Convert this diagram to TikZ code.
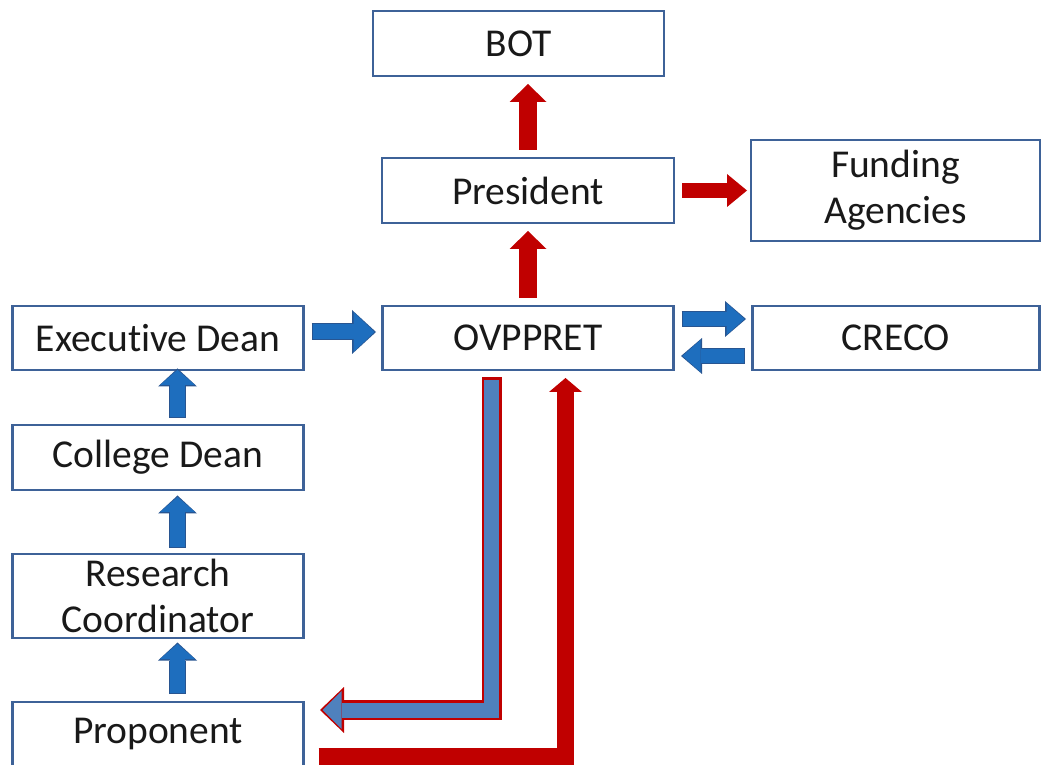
\documentclass[tikz,border=0pt]{standalone}
\usepackage{fontspec}
\setmainfont{Carlito}[Ligatures=NoCommon]
\usetikzlibrary{arrows.meta,positioning}

\definecolor{boxline}{RGB}{62,98,152}
\definecolor{arrowred}{RGB}{192,0,0}
\definecolor{arrowblue}{RGB}{30,110,190}
\definecolor{arrowedge}{RGB}{40,85,145}
\definecolor{steelblue}{RGB}{79,129,189}

\tikzset{
  box/.style={
    % The shape:
    rectangle,
    % The size:
    minimum width=291pt, minimum height=65pt, inner sep=0pt, outer sep=0pt,
    % The border:
    draw=boxline, line width=2.6pt, fill=white,
    % Font
    font=\fontsize{39.5}{46}\selectfont, align=center, text=black!90},
  redup/.style={draw=arrowred, line width=18pt,
    -{Triangle[width=37pt,length=18pt,line width=0pt]}},
  redright/.style={draw=arrowred, line width=15pt,
    -{Triangle[width=33pt,length=20pt,line width=0pt]}},
  bentred/.style={draw=arrowred, line width=17pt, line join=miter,
    -{Triangle[width=33pt,length=14pt,line width=0pt]}},
  bluewide/.style={draw=arrowblue, line width=15pt,
    -{Triangle[width=40pt,length=21pt,line width=0pt]},
    preaction={draw=arrowedge, line width=17pt, shorten >=-1.5pt, shorten <=-1pt,
      -{Triangle[width=44pt,length=24pt,line width=0pt]}}},
  bluenarrow/.style={draw=arrowblue, line width=14pt,
    -{Triangle[width=32pt,length=18pt,line width=0pt]},
    preaction={draw=arrowedge, line width=16pt, shorten >=-1.5pt, shorten <=-1pt,
      -{Triangle[width=36pt,length=21pt,line width=0pt]}}},
  blueup/.style={draw=arrowblue, line width=15pt,
    -{Triangle[width=35pt,length=15pt,line width=0pt]},
    preaction={draw=arrowedge, line width=17pt, shorten >=-1.5pt, shorten <=-1pt,
      -{Triangle[width=39pt,length=18pt,line width=0pt]}}},
  bentblue/.style={draw=steelblue, line width=15pt, line join=miter,
    -{Triangle[width=38pt,length=19pt,line width=0pt]},
    preaction={draw=arrowred, line width=20pt, line join=miter, shorten >=-2.5pt, shorten <=-2.5pt,
      -{Triangle[width=46pt,length=24pt,line width=0pt]}}}
}

\begin{document}
\begin{tikzpicture}
\useasboundingbox (0,0) rectangle (1042pt,764pt);
\node [box, minimum height=64pt] (ovp) at (528pt,426pt) {OVPPRET};
\node [box, above=83pt of ovp, minimum width=292pt] (pres) {President};
\node [box, above=82pt of pres, xshift=-9.5pt] (bot) {BOT};
\node [box, right=77pt of pres, minimum width=289pt, minimum height=101pt] (fund) {Funding\\Agencies};
\node [box, right=79pt of ovp, minimum width=287pt, minimum height=64pt] (creco) {CRECO};
\node [box, left=79pt of ovp, minimum height=64pt] (exec) {Executive Dean};
\node [box, below=55pt of exec] (cdean) {College Dean};
\node [box, below=64pt of cdean, minimum height=84pt] (rc) {Research\\Coordinator};
\node [box, below=64pt of rc, minimum height=64pt] (prop) {Proponent};
% Draw edges
\path [redup] ([yshift=8pt]pres.north) -- ([yshift=-8pt]pres.north |- bot.south);
\path [redup] ([yshift=8pt]ovp.north) -- ([yshift=-8pt]pres.south);
\path [redright] ([xshift=8pt]pres.east) -- ([xshift=-4pt]fund.west |- pres.east);
\path [bluewide] ([xshift=9pt,yshift=6pt]exec.east) -- ([xshift=-8pt,yshift=6pt]ovp.west);
\path [bluenarrow] ([xshift=9pt,yshift=19pt]ovp.east) -- ([xshift=-8pt,yshift=19pt]creco.west);
\path [bluenarrow] ([xshift=-9pt,yshift=-18pt]creco.west) -- ([xshift=9pt,yshift=-18pt]ovp.east);
\path [blueup] ([xshift=19.5pt,yshift=8pt]cdean.north) -- ([xshift=19.5pt]exec.south);
\path [blueup] ([xshift=19.5pt,yshift=7pt]rc.north) -- ([xshift=19.5pt,yshift=-7pt]cdean.south);
\path [blueup] ([xshift=19.5pt,yshift=9pt]prop.north) -- ([xshift=19.5pt,yshift=-6pt]rc.south);
% answers back to the proponent
\path [bentblue] ([xshift=-36.5pt,yshift=-10pt]ovp.south) |- ([xshift=19pt,yshift=24pt]prop.east);
\path [bentred] ([xshift=15pt,yshift=-22pt]prop.east) -| ([xshift=37.5pt,yshift=-8pt]ovp.south);
\end{tikzpicture}
\end{document}
